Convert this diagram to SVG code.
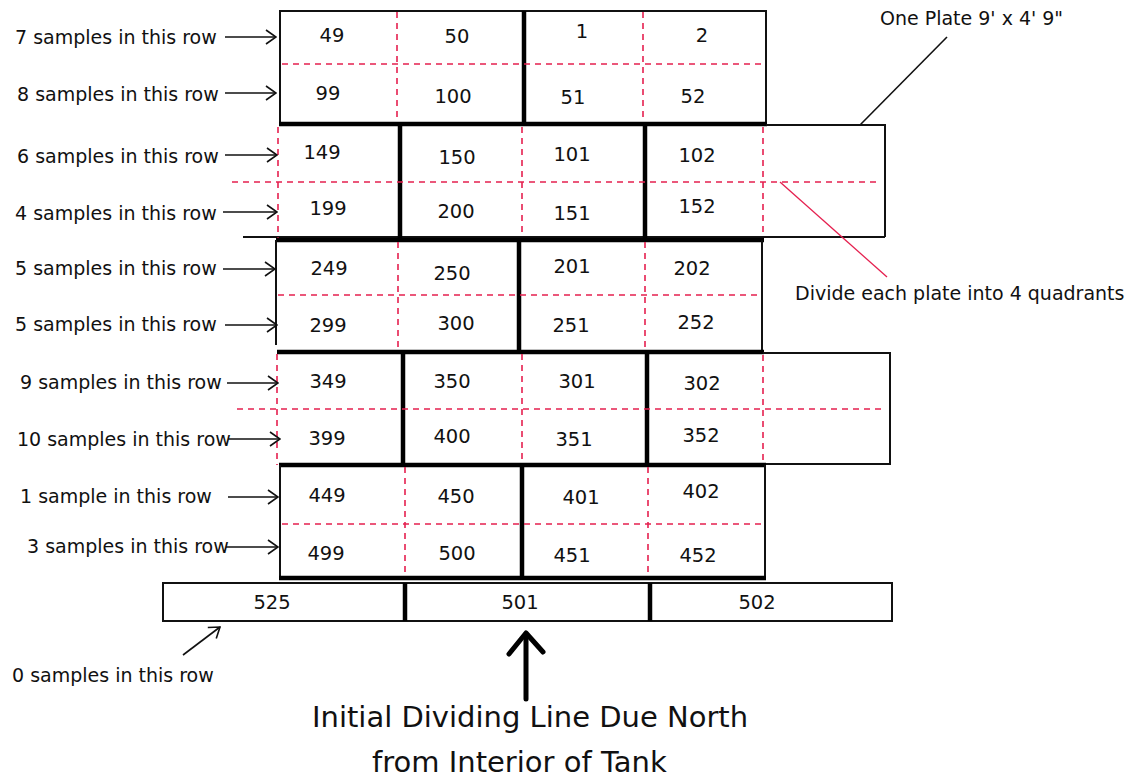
<svg xmlns="http://www.w3.org/2000/svg" width="1137" height="779" viewBox="0 0 1137 779">
  <defs>
    <style>
      .lbl { font-family: "DejaVu Sans", Verdana, sans-serif; font-size: 19px; fill: #111; }
      .num { font-family: "DejaVu Sans", Verdana, sans-serif; font-size: 19.5px; fill: #111; text-anchor: middle; }
      .big { font-family: "DejaVu Sans", Verdana, sans-serif; font-size: 29px; fill: #111; }
      .thin { stroke: #111; stroke-width: 2; fill: none; }
      .thick { stroke: #000; stroke-width: 4.5; fill: none; }
      .quad { stroke: #e5204f; stroke-width: 1.6; stroke-dasharray: 6 5; fill: none; }
      .lead { stroke: #111; stroke-width: 1.6; fill: none; }
      .lead-red { stroke: #e5204f; stroke-width: 1.3; fill: none; }
    </style>
    <marker id="open-head" viewBox="-12 -9 13 18" refX="0" refY="0" markerWidth="13" markerHeight="18" markerUnits="userSpaceOnUse" orient="auto">
      <path d="M-10,-7 L0,0 L-10,7" fill="none" stroke="#111" stroke-width="1.6"/>
    </marker>
  </defs>

  <rect width="1137" height="779" fill="#fff"/>

  <!-- Course 1: plates 49/50/99/100 and 1/2/51/52 -->
  <g id="row-1">
    <polyline class="thin" points="280,122 280,11 766,11 766,124"/>
    <line class="thick" x1="524" y1="11" x2="524" y2="122"/>
    <line class="quad" x1="397" y1="12" x2="397" y2="121"/>
    <line class="quad" x1="643" y1="12" x2="643" y2="121"/>
    <line class="quad" x1="282" y1="64" x2="764" y2="64"/>
    <text class="num" x="332" y="42">49</text>
    <text class="num" x="457" y="43">50</text>
    <text class="num" x="582" y="38">1</text>
    <text class="num" x="702" y="42">2</text>
    <text class="num" x="328" y="100">99</text>
    <text class="num" x="453" y="103">100</text>
    <text class="num" x="573" y="104">51</text>
    <text class="num" x="693" y="103">52</text>
  </g>

  <!-- Course 2 -->
  <g id="row-2">
    <line class="thick" x1="279" y1="124" x2="767" y2="124"/>
    <polyline class="thin" points="766,125 885,125 885,237"/>
    <line class="thin" x1="243" y1="237" x2="885" y2="237"/>
    <line class="thick" x1="400" y1="124" x2="400" y2="238"/>
    <line class="thick" x1="645" y1="124" x2="645" y2="238"/>
    <line class="quad" x1="278" y1="127" x2="278" y2="240"/>
    <line class="quad" x1="522" y1="127" x2="522" y2="237"/>
    <line class="quad" x1="763" y1="127" x2="763" y2="237"/>
    <line class="quad" x1="232" y1="182" x2="880" y2="182"/>
    <text class="num" x="322" y="159">149</text>
    <text class="num" x="457" y="164">150</text>
    <text class="num" x="572" y="161">101</text>
    <text class="num" x="697" y="162">102</text>
    <text class="num" x="328" y="215">199</text>
    <text class="num" x="456" y="218">200</text>
    <text class="num" x="572" y="220">151</text>
    <text class="num" x="697" y="213">152</text>
  </g>

  <!-- Course 3 -->
  <g id="row-3">
    <line class="thick" x1="276" y1="240" x2="764" y2="240"/>
    <line class="thin" x1="276" y1="240" x2="276" y2="345"/>
    <line class="thin" x1="762" y1="240" x2="762" y2="352"/>
    <line class="thick" x1="519" y1="240" x2="519" y2="352"/>
    <line class="quad" x1="398" y1="242" x2="398" y2="352"/>
    <line class="quad" x1="645" y1="242" x2="645" y2="352"/>
    <line class="quad" x1="278" y1="295" x2="760" y2="295"/>
    <line class="thick" x1="277" y1="352" x2="764" y2="352"/>
    <text class="num" x="329" y="275">249</text>
    <text class="num" x="452" y="280">250</text>
    <text class="num" x="572" y="273">201</text>
    <text class="num" x="692" y="275">202</text>
    <text class="num" x="328" y="332">299</text>
    <text class="num" x="456" y="330">300</text>
    <text class="num" x="571" y="332">251</text>
    <text class="num" x="696" y="329">252</text>
  </g>

  <!-- Course 4 -->
  <g id="row-4">
    <polyline class="thin" points="763,353 890,353 890,464 763,464"/>
    <line class="thick" x1="403" y1="352" x2="403" y2="465"/>
    <line class="thick" x1="647" y1="352" x2="647" y2="465"/>
    <line class="quad" x1="277" y1="354" x2="277" y2="465"/>
    <line class="quad" x1="522" y1="354" x2="522" y2="465"/>
    <line class="quad" x1="763" y1="355" x2="763" y2="465"/>
    <line class="quad" x1="237" y1="409" x2="885" y2="409"/>
    <line class="thick" x1="279" y1="465" x2="766" y2="465"/>
    <text class="num" x="328" y="388">349</text>
    <text class="num" x="452" y="388">350</text>
    <text class="num" x="577" y="388">301</text>
    <text class="num" x="702" y="390">302</text>
    <text class="num" x="327" y="445">399</text>
    <text class="num" x="452" y="443">400</text>
    <text class="num" x="574" y="446">351</text>
    <text class="num" x="701" y="442">352</text>
  </g>

  <!-- Course 5 -->
  <g id="row-5">
    <line class="thin" x1="280" y1="465" x2="280" y2="578"/>
    <line class="thin" x1="765" y1="465" x2="765" y2="578"/>
    <line class="thick" x1="522" y1="465" x2="522" y2="578"/>
    <line class="quad" x1="405" y1="467" x2="405" y2="578"/>
    <line class="quad" x1="648" y1="467" x2="648" y2="578"/>
    <line class="quad" x1="282" y1="524" x2="763" y2="524"/>
    <line class="thick" x1="279" y1="578" x2="766" y2="578"/>
    <text class="num" x="327" y="502">449</text>
    <text class="num" x="456" y="503">450</text>
    <text class="num" x="581" y="504">401</text>
    <text class="num" x="701" y="498">402</text>
    <text class="num" x="326" y="560">499</text>
    <text class="num" x="457" y="560">500</text>
    <text class="num" x="572" y="562">451</text>
    <text class="num" x="698" y="562">452</text>
  </g>

  <!-- Bottom course: 525 / 501 / 502 -->
  <g id="row-6">
    <rect class="thin" x="163" y="583" width="729" height="38"/>
    <line class="thick" x1="405" y1="583" x2="405" y2="621"/>
    <line class="thick" x1="650" y1="583" x2="650" y2="621"/>
    <text class="num" x="272" y="609">525</text>
    <text class="num" x="520" y="609">501</text>
    <text class="num" x="757" y="609">502</text>
  </g>

  <!-- Row labels -->
  <g id="row-labels">
    <text class="lbl" x="15" y="44">7 samples in this row</text>
    <text class="lbl" x="17" y="101">8 samples in this row</text>
    <text class="lbl" x="17" y="163">6 samples in this row</text>
    <text class="lbl" x="15" y="220">4 samples in this row</text>
    <text class="lbl" x="15" y="275">5 samples in this row</text>
    <text class="lbl" x="15" y="331">5 samples in this row</text>
    <text class="lbl" x="20" y="389">9 samples in this row</text>
    <text class="lbl" x="17" y="446">10 samples in this row</text>
    <text class="lbl" x="20" y="503">1 sample in this row</text>
    <text class="lbl" x="27" y="553">3 samples in this row</text>
    <text class="lbl" x="12" y="682">0 samples in this row</text>
  </g>

  <!-- Notes -->
  <g id="note-plate">
    <text class="lbl" x="880" y="25">One Plate 9' x 4' 9&quot;</text>
  </g>
  <g id="note-quadrants">
    <text class="lbl" x="795" y="300">Divide each plate into 4 quadrants</text>
  </g>
  <g id="note-north">
    <text class="big" x="312" y="727">Initial Dividing Line Due North</text>
    <text class="big" x="372" y="772">from Interior of Tank</text>
  </g>

  <!-- Connectors -->
  <g id="connectors">
    <line class="lead" x1="225" y1="37" x2="276" y2="37" marker-end="url(#open-head)"/>
    <line class="lead" x1="225" y1="93" x2="276" y2="93" marker-end="url(#open-head)"/>
    <line class="lead" x1="225" y1="155" x2="277" y2="155" marker-end="url(#open-head)"/>
    <line class="lead" x1="223" y1="212" x2="277" y2="212" marker-end="url(#open-head)"/>
    <line class="lead" x1="223" y1="269" x2="275" y2="269" marker-end="url(#open-head)"/>
    <line class="lead" x1="225" y1="325" x2="277" y2="325" marker-end="url(#open-head)"/>
    <line class="lead" x1="227" y1="383" x2="278" y2="383" marker-end="url(#open-head)"/>
    <line class="lead" x1="228" y1="439" x2="280" y2="439" marker-end="url(#open-head)"/>
    <line class="lead" x1="228" y1="497" x2="278" y2="497" marker-end="url(#open-head)"/>
    <line class="lead" x1="226" y1="547" x2="278" y2="547" marker-end="url(#open-head)"/>
    <line class="lead" x1="183" y1="655" x2="220" y2="627" marker-end="url(#open-head)"/>
    <line class="lead" x1="947" y1="37" x2="860" y2="125"/>
    <line class="lead-red" x1="780" y1="182" x2="887" y2="277"/>
    <g stroke="#000" stroke-width="5" stroke-linecap="round" stroke-linejoin="round" fill="none">
      <line x1="526" y1="699" x2="526" y2="634"/>
      <polyline points="509,654 526,633 543,652"/>
    </g>
  </g>
</svg>
